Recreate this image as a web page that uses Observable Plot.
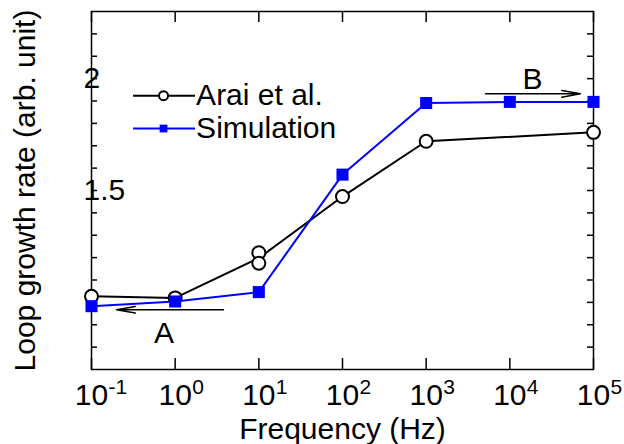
<!DOCTYPE html>
<html>
<head>
<meta charset="utf-8">
<script src="https://cdn.jsdelivr.net/npm/d3@7"></script>
<script src="https://cdn.jsdelivr.net/npm/@observablehq/plot@0.6"></script>
<style>
  html, body { margin: 0; padding: 0; background: #fff; }
  #chart svg { display: block; }
</style>
</head>
<body>
<div id="chart"></div>
<script>
// ---- data ----
const freqTicks = [0.1, 1, 10, 100, 1000, 10000, 100000];
const freqExponents = ["-1", "0", "1", "2", "3", "4", "5"];
const yTicks = [0.8, 0.9, 1.0, 1.1, 1.2, 1.3, 1.4, 1.5, 1.6, 1.7, 1.8, 1.9, 2.0, 2.1, 2.2];
const yLabelValues = [1.5, 2];
const yTickLabels = ["1.5", "2"];

// Arai et al. (measured points; two measurements at 10 Hz)
const araiX = [0.1, 1, 10, 10, 100, 1000, 100000];
const araiY = [1.027, 1.020, 1.222, 1.175, 1.473, 1.720, 1.760];
// Arai line passes through the mean at 10 Hz
const araiLineX = [0.1, 1, 10, 100, 1000, 100000];
const araiLineY = [1.027, 1.020, 1.198, 1.473, 1.720, 1.760];

// Simulation
const simX = [0.1, 1, 10, 100, 1000, 10000, 100000];
const simY = [0.983, 1.004, 1.046, 1.571, 1.891, 1.896, 1.896];

// legend
const legendLabels = ["Arai et al.", "Simulation"];
const legendY = [1.924, 1.777];
const legendLineX = [0.318, 1.75];
const legendMarkerX = 0.726;
const legendTextX = 1.78;

// annotations
const arrows = [
  {x1: 3.78, y1: 0.967, x2: 0.199, y2: 0.967},
  {x1: 5117, y1: 1.932, x2: 69850, y2: 1.932}
];
const arrowLabels = ["A", "B"];
const arrowLabelX = [0.735, 18660];
const arrowLabelY = [0.817, 1.954];

// ---- layout ----
const W = 624, H = 444;
const mL = 91, mR = 31, mT = 11, mB = 75;
const frameW = W - mL - mR, frameH = H - mT - mB;
const FONT = "Liberation Sans, Arial, Helvetica, sans-serif";
const FS = 30;

const pts = (xs, ys) => xs.map((x, i) => ({x, y: ys[i]}));

const chart = Plot.plot({
  width: W,
  height: H,
  marginLeft: mL,
  marginRight: mR,
  marginTop: mT,
  marginBottom: mB,
  style: {fontFamily: FONT, background: "#fff", color: "#000", overflow: "visible"},
  x: {type: "log", domain: [0.1, 100000], axis: null},
  y: {domain: [0.7, 2.3], axis: null},
  marks: [
    // inward ticks
    Plot.tickX(freqTicks, {x: d => d, insetTop: frameH - 11, stroke: "#000", strokeWidth: 1.5}),
    Plot.tickX(freqTicks, {x: d => d, insetBottom: frameH - 11, stroke: "#000", strokeWidth: 1.5}),
    Plot.tickY(yTicks, {y: d => d, insetRight: frameW - 6, stroke: "#000", strokeWidth: 1.5}),
    Plot.tickY(yTicks, {y: d => d, insetLeft: frameW - 6, stroke: "#000", strokeWidth: 1.5}),
    Plot.frame({stroke: "#000", strokeWidth: 1.5}),

    // x tick labels: 10 with superscript exponent
    Plot.text(freqTicks, {x: d => d, frameAnchor: "bottom", text: () => "10", dy: 35,
      lineAnchor: "bottom", textAnchor: "middle", fontSize: FS, fill: "#000"}),
    Plot.text(freqTicks, {x: d => d, frameAnchor: "bottom", text: (d, i) => freqExponents[i], dx: 17, dy: 24,
      lineAnchor: "bottom", textAnchor: "start", fontSize: 21, fill: "#000"}),

    // y tick labels
    Plot.text(yLabelValues, {y: d => d, frameAnchor: "left", text: (d, i) => yTickLabels[i], dx: -8,
      lineAnchor: "middle", textAnchor: "start", fontSize: FS, fill: "#000"}),

    // axis titles
    Plot.text(["Frequency (Hz)"], {text: d => d, frameAnchor: "bottom", dy: 69,
      lineAnchor: "bottom", textAnchor: "middle", fontSize: FS, fill: "#000"}),
    Plot.text(["Loop growth rate (arb. unit)"], {text: d => d, frameAnchor: "left", dx: -57, rotate: -90,
      lineAnchor: "bottom", textAnchor: "middle", fontSize: FS, fill: "#000"}),

    // series
    Plot.line(pts(araiLineX, araiLineY), {x: "x", y: "y", stroke: "#000", strokeWidth: 2}),
    Plot.dot(pts(araiX, araiY), {x: "x", y: "y", r: 6.5, fill: "#fff", stroke: "#000", strokeWidth: 2}),
    Plot.line(pts(simX, simY), {x: "x", y: "y", stroke: "#0000ff", strokeWidth: 2}),
    Plot.dot(pts(simX, simY), {x: "x", y: "y", symbol: "square", r: 6.8, fill: "#0000ff", stroke: "none"}),

    // legend
    Plot.ruleY([legendY[0]], {y: d => d, x1: legendLineX[0], x2: legendLineX[1], stroke: "#000", strokeWidth: 2}),
    Plot.dot([legendY[0]], {x: () => legendMarkerX, y: d => d, r: 4.5, fill: "#fff", stroke: "#000", strokeWidth: 2}),
    Plot.ruleY([legendY[1]], {y: d => d, x1: legendLineX[0], x2: legendLineX[1], stroke: "#0000ff", strokeWidth: 2}),
    Plot.dot([legendY[1]], {x: () => legendMarkerX, y: d => d, symbol: "square", r: 4.4, fill: "#0000ff", stroke: "none"}),
    Plot.text(legendLabels, {x: () => legendTextX, y: (d, i) => legendY[i], text: d => d,
      textAnchor: "start", lineAnchor: "middle", fontSize: FS, fill: "#000"}),

    // annotations
    Plot.arrow(arrows, {x1: "x1", y1: "y1", x2: "x2", y2: "y2", stroke: "#000", strokeWidth: 1.5,
      headAngle: 20, headLength: 19}),
    Plot.text(arrowLabels, {x: (d, i) => arrowLabelX[i], y: (d, i) => arrowLabelY[i], text: d => d,
      textAnchor: "middle", lineAnchor: "bottom", fontSize: FS, fill: "#000"})
  ]
});

document.getElementById("chart").appendChild(chart);
</script>
</body>
</html>
